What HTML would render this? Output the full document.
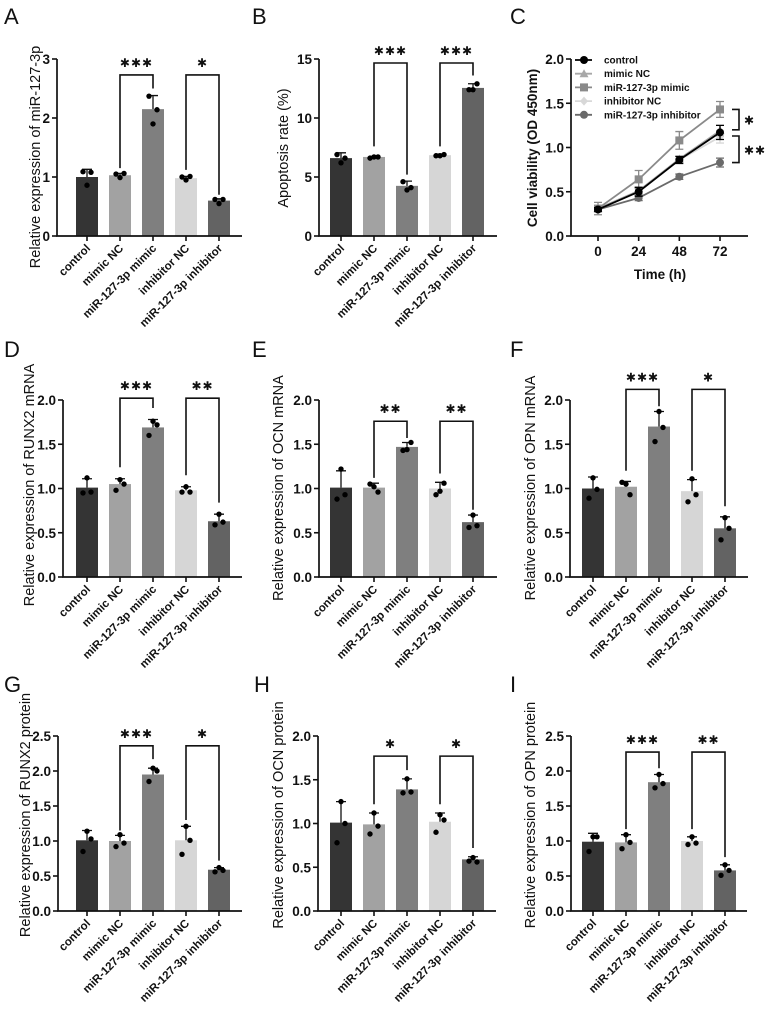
<!DOCTYPE html>
<html><head><meta charset="utf-8"><style>
html,body{margin:0;padding:0;background:#fff;}
svg{display:block;font-family:"Liberation Sans",Arial,sans-serif;}
</style></head><body>
<svg id="fig" width="766" height="1023" viewBox="0 0 766 1023"></svg>
<script>
const categories=["control","mimic NC","miR-127-3p mimic","inhibitor NC","miR-127-3p inhibitor"];
const aMeans=[1.0,1.03,2.15,0.98,0.6];const aSd=[0.13,0.03,0.23,0.03,0.03];
const aPts=[[1.09,1.08,0.86],[1.05,1.06,0.99],[2.37,2.14,1.9],[1.0,1.01,0.95],[0.62,0.62,0.55]];
const bMeans=[6.6,6.7,4.25,6.85,12.55];const bSd=[0.45,0.05,0.4,0.1,0.35];
const bPts=[[6.9,6.6,6.2],[6.6,6.7,6.7],[4.6,4.1,3.9],[6.8,6.9,6.8],[12.4,12.9,12.4]];
const dMeans=[1.01,1.05,1.69,0.98,0.63];const dSd=[0.1,0.06,0.09,0.04,0.08];
const dPts=[[0.95,0.96,1.12],[0.98,1.05,1.1],[1.6,1.72,1.76],[0.96,0.96,1.02],[0.59,0.62,0.71]];
const eMeans=[1.01,1.01,1.47,1.0,0.62];const eSd=[0.19,0.05,0.05,0.07,0.08];
const ePts=[[0.88,0.93,1.22],[1.05,0.96,1.02],[1.43,1.52,1.44],[0.93,1.06,0.97],[0.56,0.58,0.7]];
const fMeans=[1.0,1.02,1.7,0.97,0.55];const fSd=[0.13,0.06,0.17,0.13,0.13];
const fPts=[[0.89,0.99,1.12],[1.07,0.93,1.05],[1.53,1.69,1.87],[0.85,0.93,1.11],[0.42,0.55,0.67]];
const gMeans=[1.01,1.0,1.95,1.01,0.59];const gSd=[0.14,0.08,0.09,0.2,0.03];
const gPts=[[0.85,1.03,1.14],[0.92,0.97,1.09],[1.85,2.0,2.04],[0.81,1.01,1.21],[0.56,0.58,0.62]];
const hMeans=[1.01,0.99,1.39,1.02,0.59];const hSd=[0.24,0.13,0.12,0.1,0.03];
const hPts=[[0.78,1.0,1.25],[0.88,0.97,1.12],[1.35,1.36,1.51],[0.9,1.04,1.1],[0.57,0.56,0.61]];
const iMeans=[0.99,0.98,1.84,1.0,0.58];const iSd=[0.12,0.11,0.11,0.06,0.08];
const iPts=[[0.85,1.06,1.06],[0.89,0.98,1.09],[1.76,1.82,1.95],[0.95,0.97,1.06],[0.51,0.58,0.66]];
// brackets: [fromBar,toBar,topValue,leftEndValue,rightEndValue,label]
const aBr=[[1,2,2.73,1.15,2.5,"***"],[3,4,2.73,1.12,0.7,"*"]];
const bBr=[[1,2,14.66,7.6,5.2,"***"],[3,4,14.66,7.6,13.6,"***"]];
const dBr=[[1,2,2.02,1.24,1.91,"***"],[3,4,2.02,1.15,0.84,"**"]];
const eBr=[[1,2,1.76,1.12,1.57,"**"],[3,4,1.76,1.17,0.76,"**"]];
const fBr=[[1,2,2.12,1.2,1.93,"***"],[3,4,2.12,1.2,0.8,"*"]];
const gBr=[[1,2,2.36,1.15,2.17,"***"],[3,4,2.36,1.3,0.72,"*"]];
const hBr=[[1,2,1.77,1.22,1.61,"*"],[3,4,1.77,1.22,0.72,"*"]];
const iBr=[[1,2,2.27,1.17,2.04,"***"],[3,4,2.27,1.17,0.77,"**"]];
// line chart C
const cTimes=[0,24,48,72];
const cSeriesNames=["control","mimic NC","miR-127-3p mimic","inhibitor NC","miR-127-3p inhibitor"];
const cControl=[0.30,0.50,0.86,1.17];const cControlErr=[0.02,0.05,0.04,0.08];
const cMimicNC=[0.31,0.51,0.87,1.19];const cMimicNCErr=[0.03,0.04,0.03,0.06];
const cMimic=[0.31,0.64,1.08,1.43];const cMimicErr=[0.07,0.10,0.10,0.09];
const cInhNC=[0.30,0.50,0.86,1.12];const cInhNCErr=[0.02,0.03,0.03,0.07];
const cInh=[0.30,0.43,0.67,0.83];const cInhErr=[0.02,0.03,0.03,0.05];

const NS="http://www.w3.org/2000/svg";const svg=document.getElementById("fig");
function el(t,a,p){const e=document.createElementNS(NS,t);for(const k in a)e.setAttribute(k,a[k]);(p||svg).appendChild(e);return e;}
function txt(s,a,p){const e=el("text",a,p);e.textContent=s;return e;}
const barColors=["#343434","#a2a2a2","#7f7f7f","#d6d6d6","#636363"];
function stars(s){return s.replace(/\*/g,"\u2731");}

function barPanel(id,letter,lx,ly,cfg,means,sd,pts,br,title,titleX,titleY){
  const g=el("g",{});
  const L=txt(letter,{x:lx,y:ly,"font-size":22,fill:"#111"},g);
  const y=v=>cfg.y0-(v/cfg.max)*(cfg.y0-cfg.yTop);
  const x=i=>cfg.bar1+i*33;
  means.forEach((m,i)=>{
    const r=el("rect",{x:x(i)-11,y:y(m),width:22,height:cfg.y0-y(m),fill:barColors[i]},g);
    
    const eb=el("path",{d:`M${x(i)} ${y(m)}V${y(m+sd[i])}M${x(i)-5} ${y(m+sd[i])}H${x(i)+5}`,stroke:"#111","stroke-width":1.3,fill:"none"},g);
    
    const offs=[-4,4,0];
    pts[i].forEach((p,j)=>{const c=el("circle",{cx:x(i)+offs[j],cy:y(p),r:2.7,fill:"#000"},g);
      });
  });
  const ax=el("path",{d:`M${cfg.ax} ${cfg.yTop}V${cfg.y0}H${cfg.end}`,stroke:"#111","stroke-width":1.7,fill:"none"},g);
  
  for(let v=0;v<=cfg.max+1e-9;v+=cfg.step){
    el("path",{d:`M${cfg.ax-5} ${y(v)}H${cfg.ax}`,stroke:"#111","stroke-width":1.6},g);
    const t=txt(v.toFixed(cfg.dec),{x:cfg.ax-7,y:y(v)+5,"font-size":13.5,"font-weight":"bold","text-anchor":"end",fill:"#111"},g);
    
  }
  categories.forEach((c,i)=>{
    el("path",{d:`M${x(i)} ${cfg.y0}V${cfg.y0+5}`,stroke:"#111","stroke-width":1.6},g);
    const t=txt(c,{transform:`translate(${x(i)+4},${cfg.y0+13}) rotate(-45)`,"font-size":11.5,"font-weight":"bold","text-anchor":"end",fill:"#111"},g);
    
  });
  const yt=txt(title,{transform:`translate(${titleX},${titleY}) rotate(-90)`,"font-size":14.5,"text-anchor":"middle",fill:"#111"},g);
  
  br.forEach(b=>{
    const x1=x(b[0]),x2=x(b[1]),yt2=y(b[2]);
    const p=el("path",{d:`M${x1} ${y(b[3])}V${yt2}H${x2}V${y(b[4])}`,stroke:"#111","stroke-width":1.6,fill:"none"},g);
    
    const s=txt(stars(b[5]),{x:(x1+x2)/2,y:yt2-8,"font-size":12,"font-family":"DejaVu Sans, sans-serif","letter-spacing":"1","text-anchor":"middle",fill:"#111"},g);
    
  });
}
barPanel("a","A",4,24,{ax:57,y0:236,yTop:59,max:3,step:1,dec:0,bar1:87,end:242},aMeans,aSd,aPts,aBr,"Relative expression of miR-127-3p",40,157);
barPanel("b","B",252,24,{ax:319,y0:236,yTop:59,max:15,step:5,dec:0,bar1:341,end:497},bMeans,bSd,bPts,bBr,"Apoptosis rate (%)",288,148);
barPanel("d","D",4,357,{ax:63,y0:577,yTop:400,max:2,step:0.5,dec:1,bar1:87,end:242},dMeans,dSd,dPts,dBr,"Relative expression of RUNX2 mRNA",34,485);
barPanel("e","E",252,357,{ax:319,y0:577,yTop:400,max:2,step:0.5,dec:1,bar1:341,end:497},eMeans,eSd,ePts,eBr,"Relative expression of OCN mRNA",283,488);
barPanel("f","F",510,357,{ax:570,y0:577,yTop:400,max:2,step:0.5,dec:1,bar1:593,end:748},fMeans,fSd,fPts,fBr,"Relative expression of OPN mRNA",535,488);
barPanel("g","G",4,692,{ax:58,y0:911,yTop:736,max:2.5,step:0.5,dec:1,bar1:87,end:242},gMeans,gSd,gPts,gBr,"Relative expression of RUNX2 protein",30,815);
barPanel("h","H",254,692,{ax:318,y0:911,yTop:736,max:2,step:0.5,dec:1,bar1:341,end:496},hMeans,hSd,hPts,hBr,"Relative expression of OCN protein",283,815);
barPanel("i","I",510,692,{ax:571,y0:911,yTop:736,max:2.5,step:0.5,dec:1,bar1:593,end:747},iMeans,iSd,iPts,iBr,"Relative expression of OPN protein",535,815);

(function(){
  const g=el("g",{});
  const L=txt("C",{x:510,y:24,"font-size":22,fill:"#111"},g);
  const y0=236,yTop=59,max=2,axX=571,end=748;
  const y=v=>y0-(v/max)*(y0-yTop);
  const x=t=>598+(t/72)*(720-598);
  const ax=el("path",{d:`M${axX} ${yTop}V${y0}H${end}`,stroke:"#111","stroke-width":1.7,fill:"none"},g);
  
  for(let v=0;v<=max+1e-9;v+=0.5){
    el("path",{d:`M${axX-5} ${y(v)}H${axX}`,stroke:"#111","stroke-width":1.6},g);
    const t=txt(v.toFixed(1),{x:axX-7,y:y(v)+5,"font-size":13.5,"font-weight":"bold","text-anchor":"end",fill:"#111"},g);
    
  }
  cTimes.forEach(t=>{
    el("path",{d:`M${x(t)} ${y0}V${y0+5}`,stroke:"#111","stroke-width":1.6},g);
    const tl=txt(String(t),{x:x(t),y:y0+20,"font-size":13.5,"font-weight":"bold","text-anchor":"middle",fill:"#111"},g);
    
  });
  const xt=txt("Time (h)",{x:660,y:279,"font-size":13.5,"font-weight":"bold","text-anchor":"middle",fill:"#111"},g);
  
  const yt=txt("Cell viability (OD 450nm)",{transform:"translate(537,148) rotate(-90)","font-size":13.5,"font-weight":"bold","text-anchor":"middle",fill:"#111"},g);
  
  const series=[[cMimicNC,cMimicNCErr,"#a8a8a8","tri"],[cInhNC,cInhNCErr,"#d8d8d8","dia"],[cMimic,cMimicErr,"#8a8a8a","sq"],[cInh,cInhErr,"#6a6a6a","circ"],[cControl,cControlErr,"#000","circ"]];
  function marker(cx,cy,shape,col,parent){
    let m;
    if(shape==="circ")m=el("circle",{cx:cx,cy:cy,r:4,fill:col},parent);
    else if(shape==="sq")m=el("rect",{x:cx-4,y:cy-4,width:8,height:8,fill:col},parent);
    else if(shape==="tri")m=el("path",{d:`M${cx} ${cy-4.5}L${cx+4.5} ${cy+3.5}L${cx-4.5} ${cy+3.5}Z`,fill:col},parent);
    else m=el("path",{d:`M${cx} ${cy-4.5}L${cx+4} ${cy}L${cx} ${cy+4.5}L${cx-4} ${cy}Z`,fill:col},parent);
    return m;
  }
  series.forEach(s=>{
    const [vals,errs,col,shape]=s;
    const d=vals.map((v,i)=>(i?"L":"M")+x(cTimes[i])+" "+y(v)).join("");
    const ln=el("path",{d:d,stroke:col,"stroke-width":1.8,fill:"none"},g);
    
    vals.forEach((v,i)=>{
      const cx=x(cTimes[i]);
      el("path",{d:`M${cx} ${y(v-errs[i])}V${y(v+errs[i])}M${cx-4} ${y(v+errs[i])}H${cx+4}M${cx-4} ${y(v-errs[i])}H${cx+4}`,stroke:col,"stroke-width":1.3,fill:"none"},g);
      const m=marker(cx,y(v),shape,col,g);
      
    });
  });
  const legCols=["#000","#a8a8a8","#8a8a8a","#d8d8d8","#6a6a6a"];const legShapes=["circ","tri","sq","dia","circ"];
  cSeriesNames.forEach((n,i)=>{
    const ly=60+i*13.7;
    const lg=el("g",{},g);
    el("path",{d:`M${575} ${ly}H${592}`,stroke:legCols[i],"stroke-width":1.8},lg);
    marker(584,ly,legShapes[i],legCols[i],lg);
    txt(n,{x:604,y:ly+3.5,"font-size":10,"font-weight":"bold",fill:"#111"},lg);
  });
  const sb=[[y(1.43),y(1.2),"*"],[y(1.13),y(0.83),"**"]];
  sb.forEach(b=>{
    const p=el("path",{d:`M732 ${b[0]}H739V${b[1]}H732`,stroke:"#111","stroke-width":1.6,fill:"none"},g);
    
    const s=txt(stars(b[2]),{x:744,y:(b[0]+b[1])/2+5,"font-size":12,"font-family":"DejaVu Sans, sans-serif","letter-spacing":"1",fill:"#111"},g);
    
  });
})();
</script>
</body></html>
